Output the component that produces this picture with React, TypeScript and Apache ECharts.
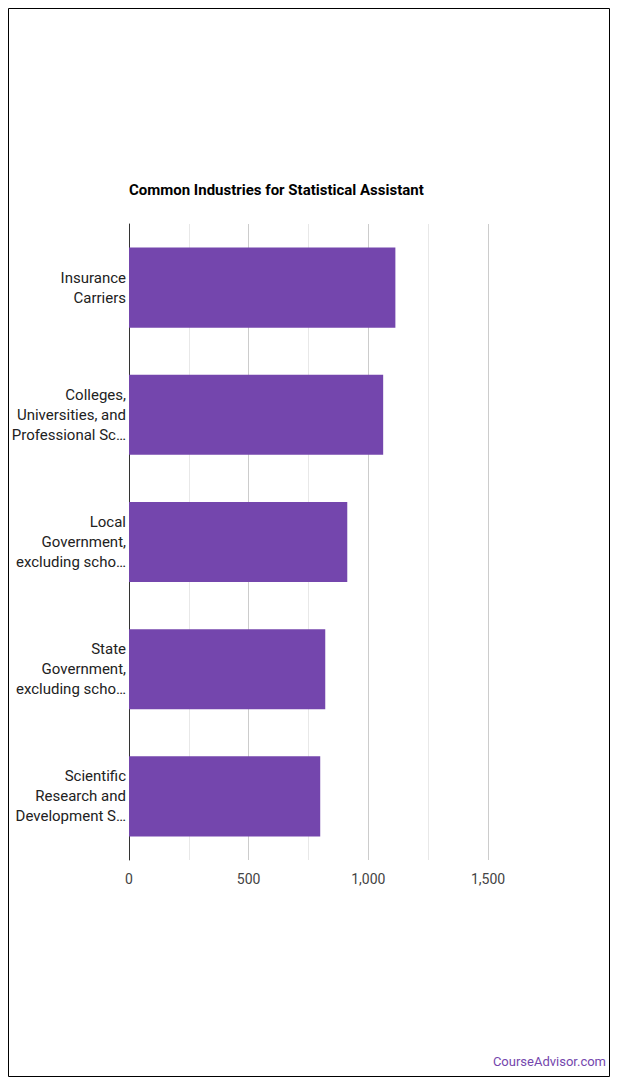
import React, { useEffect, useRef } from "react";
import * as echarts from "echarts";

const categories = [
  "Insurance\nCarriers",
  "Colleges,\nUniversities, and\nProfessional Sc…",
  "Local\nGovernment,\nexcluding scho…",
  "State\nGovernment,\nexcluding scho…",
  "Scientific\nResearch and\nDevelopment S…",
];
const values = [1113, 1062, 912, 820, 799];
const titleText = "Common Industries for Statistical Assistant";
const sourceText = "CourseAdvisor.com";

export default function App() {
  const ref = useRef<HTMLDivElement>(null);
  useEffect(() => {
    if (!ref.current) return;
    const chart = echarts.init(ref.current, null, { renderer: "svg" });
    chart.setOption({
      animation: false,
      textStyle: { fontFamily: "Roboto" },
      title: {
        text: titleText,
        left: 124,
        top: 177,
        textStyle: { fontFamily: "Roboto", fontSize: 15, fontWeight: "bold", color: "#000" },
      },
      graphic: [
        {
          type: "rect",
          shape: { x: 8.5, y: 8.5, width: 601, height: 1068 },
          style: { fill: "none", stroke: "#000", lineWidth: 1 },
        },
        {
          type: "text",
          right: 14,
          top: 1055,
          style: { text: sourceText, fill: "#7446ad", font: "13px Roboto" },
        },
      ],
      grid: { left: 129, right: 132, top: 224, bottom: 225, containLabel: false },
      xAxis: {
        type: "value",
        min: 0,
        max: 1500,
        interval: 250,
        axisLine: { show: false },
        axisTick: { show: false },
        axisLabel: {
          formatter: (v: number) => (v % 500 === 0 ? v.toLocaleString("en-US") : ""),
          color: "#444",
          fontSize: 14,
          fontFamily: "Roboto",
          margin: 12,
        },
        splitLine: { show: true, lineStyle: { color: ["#cccccc", "#e8e8e8"], width: 1 } },
      },
      yAxis: {
        type: "category",
        data: categories,
        inverse: true,
        axisLine: { show: true, lineStyle: { color: "#333", width: 1 } },
        axisTick: { show: false },
        axisLabel: {
          color: "#222",
          fontSize: 15,
          fontFamily: "Roboto",
          lineHeight: 20,
          align: "right",
          margin: 3,
        },
      },
      series: [
        {
          type: "bar",
          data: values,
          barCategoryGap: "37%",
          itemStyle: { color: "#7446ad" },
        },
      ],
    });
    return () => chart.dispose();
  }, []);
  return (
    <div
      ref={ref}
      style={{ position: "absolute", left: 0, top: 0, width: 620, height: 1085, background: "#fff" }}
    />
  );
}
